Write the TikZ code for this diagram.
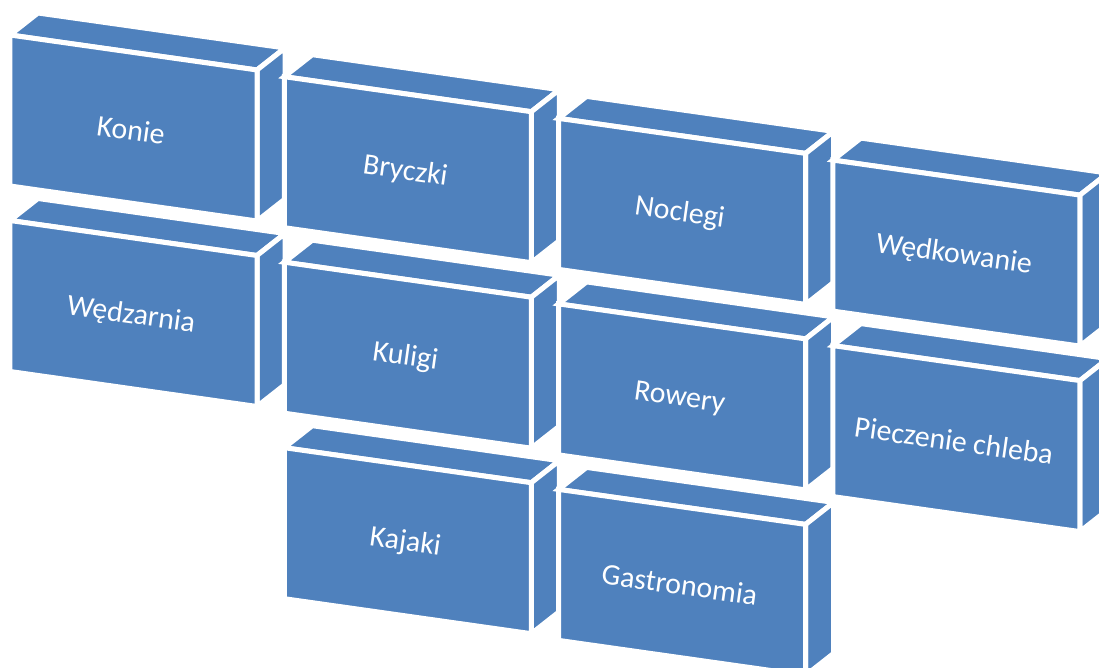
\documentclass[tikz,border=0pt]{standalone}
\usepackage{fontspec}
\setmainfont{Carlito}
\usetikzlibrary{calc}
\definecolor{brickblue}{HTML}{4F81BD}

\begin{document}
\begin{tikzpicture}[x=0.02cm, y=-0.02cm,
    face/.style={fill=brickblue, draw=white, line width=0.1cm, line join=miter},
    brick text/.style={text=white, rotate=-8, font=\fontsize{17}{20}\selectfont}]
    \useasboundingbox (0,0) rectangle (1099,668);
    \foreach \c/\r/\name/\txt in {0/0/konie/Konie, 0/1/wedzarnia/Wędzarnia,
        1/0/bryczki/Bryczki, 1/1/kuligi/Kuligi, 1/2/kajaki/Kajaki,
        2/0/noclegi/Noclegi, 2/1/rowery/Rowery, 2/2/gastronomia/Gastronomia,
        3/0/wedkowanie/Wędkowanie, 3/1/pieczenie/Pieczenie chleba} {
        \pgfmathsetmacro\bx{10+274.3*\c}
        \pgfmathsetmacro\by{35+41.7*\c+185.5*\r}
        % top, side, front
        \draw[face] (\bx,\by) -- ++(28,-22) -- ++(247,35) -- ++(-28,22) -- cycle;
        \draw[face] (\bx+247,\by+35) -- ++(28,-22) -- ++(0,151) -- ++(-28,22) -- cycle;
        \draw[face] (\bx,\by) -- ++(247,35) -- ++(0,151) -- ++(-247,-35) -- cycle;
        \node[brick text] (\name) at (\bx+121,\by+95) {\txt};
    }
\end{tikzpicture}
\end{document}
